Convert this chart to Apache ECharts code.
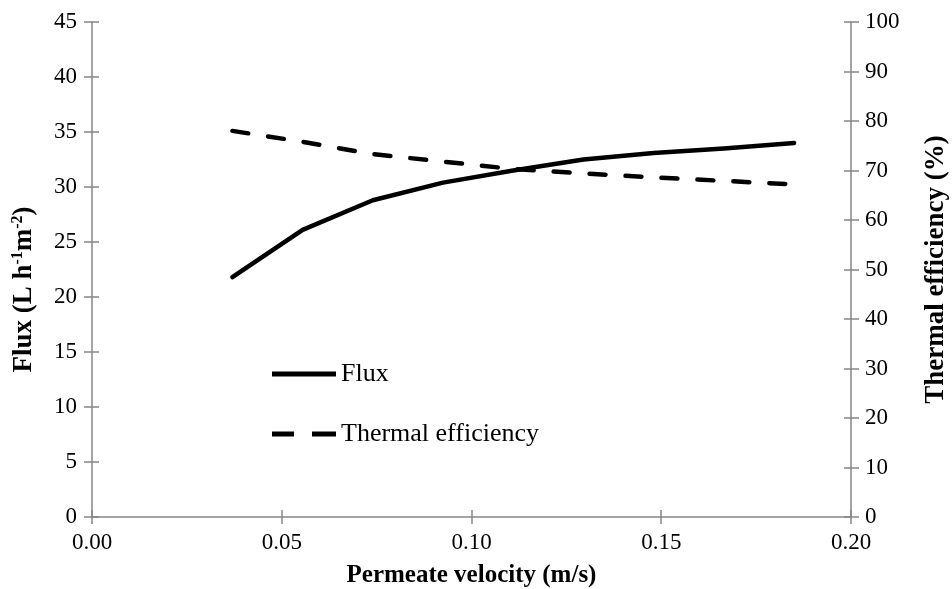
<!DOCTYPE html>
<html>
<head>
<meta charset="utf-8">
<script src="https://cdn.jsdelivr.net/npm/echarts@6/dist/echarts.min.js"></script>
<style>
  html, body { margin: 0; padding: 0; background: #fff; }
  #main { width: 952px; height: 589px; }
</style>
</head>
<body>
<div id="main"></div>
<script type="text/javascript">
// permeate velocity (m/s)
var velocity = [0.037, 0.0555, 0.074, 0.0925, 0.111, 0.1295, 0.148, 0.1665, 0.185];
// flux (L h-1 m-2)
var flux = [21.8, 26.1, 28.8, 30.4, 31.5, 32.5, 33.1, 33.5, 34.0];
// thermal efficiency (%)
var thermalEff = [78.0, 75.8, 73.3, 71.8, 70.3, 69.4, 68.6, 67.9, 67.2];

var fluxTicks = { min: 0, max: 45, interval: 5 };
var effTicks = { min: 0, max: 100, interval: 10 };
var velTicks = { min: 0, max: 0.2, interval: 0.05 };

var axisGrey = '#868686';
var serif = 'Liberation Serif';
var gridBox = { left: 92, right: 101, top: 22, bottom: 72, outerBoundsMode: 'none', containLabel: false };

function pairs(xs, ys) {
  var out = [];
  for (var i = 0; i < xs.length; i++) out.push([xs[i], ys[i]]);
  return out;
}

// axes of grid 1 only draw the inner half of the excel "cross" ticks
function innerTicks(pos, scale) {
  return {
    type: 'value', gridIndex: 1, position: pos,
    min: scale.min, max: scale.max, interval: scale.interval,
    axisLine: { show: false },
    axisTick: { show: true, inside: true, length: 7, lineStyle: { color: axisGrey, width: 1.5 } },
    axisLabel: { show: false },
    splitLine: { show: false }
  };
}

var myChart = echarts.init(document.getElementById('main'));

var option = {
  animation: false,
  backgroundColor: '#fff',
  textStyle: { fontFamily: serif },
  grid: [gridBox, gridBox],
  legend: {
    orient: 'vertical',
    left: 267,
    top: 354,
    itemWidth: 64,
    itemHeight: 5,
    itemGap: 30,
    textStyle: { fontFamily: serif, fontSize: 26, lineHeight: 30, color: '#000' },
    data: [
      { name: 'Flux', icon: 'path://M0,0h64v5h-64z' },
      { name: 'Thermal efficiency', icon: 'path://M0,0h22v5h-22z M40,0h24v5h-24z' }
    ]
  },
  xAxis: [{
    type: 'value', gridIndex: 0,
    min: velTicks.min, max: velTicks.max, interval: velTicks.interval,
    name: 'Permeate velocity (m/s)',
    nameLocation: 'middle',
    nameGap: 46,
    nameTextStyle: { fontFamily: serif, fontSize: 25, fontWeight: 'bold', color: '#000' },
    axisLine: { lineStyle: { color: axisGrey, width: 1.5 } },
    axisTick: { inside: false, length: 7, lineStyle: { color: axisGrey, width: 1.5 } },
    axisLabel: {
      margin: 14, fontFamily: serif, fontSize: 23, color: '#000',
      formatter: function (v) { return v.toFixed(2); }
    },
    splitLine: { show: false }
  }, innerTicks('bottom', velTicks)],
  yAxis: [{
    type: 'value', gridIndex: 0, position: 'left',
    min: fluxTicks.min, max: fluxTicks.max, interval: fluxTicks.interval,
    name: 'Flux (L h{sup|-1}m{sup|-2})',
    nameLocation: 'middle',
    nameGap: 54,
    nameTextStyle: {
      fontFamily: serif, fontSize: 27, fontWeight: 'bold', color: '#000',
      padding: [0, 40, 0, 0],
      rich: { sup: { fontFamily: serif, fontSize: 16, fontWeight: 'bold', color: '#000', verticalAlign: 'top', padding: [0, 0, 12, 0] } }
    },
    axisLine: { show: true, lineStyle: { color: axisGrey, width: 1.5 } },
    axisTick: { show: true, inside: false, length: 8, lineStyle: { color: axisGrey, width: 1.5 } },
    axisLabel: { margin: 15, fontFamily: serif, fontSize: 23, color: '#000' },
    splitLine: { show: false }
  }, {
    type: 'value', gridIndex: 0, position: 'right',
    min: effTicks.min, max: effTicks.max, interval: effTicks.interval,
    name: 'Thermal efficiency (%)',
    nameLocation: 'middle',
    nameGap: 72,
    nameRotate: 90,
    nameTextStyle: { fontFamily: serif, fontSize: 27, fontWeight: 'bold', color: '#000' },
    axisLine: { show: true, lineStyle: { color: axisGrey, width: 1.5 } },
    axisTick: { show: true, inside: false, length: 8, lineStyle: { color: axisGrey, width: 1.5 } },
    axisLabel: { margin: 14, fontFamily: serif, fontSize: 23, color: '#000' },
    splitLine: { show: false }
  }, innerTicks('left', fluxTicks), innerTicks('right', effTicks)],
  series: [{
    name: 'Flux',
    type: 'line',
    xAxisIndex: 0,
    yAxisIndex: 0,
    data: pairs(velocity, flux),
    symbol: 'none',
    color: '#000',
    lineStyle: { color: '#000', width: 4.5, cap: 'round', join: 'round' }
  }, {
    name: 'Thermal efficiency',
    type: 'line',
    xAxisIndex: 0,
    yAxisIndex: 1,
    data: pairs(velocity, thermalEff),
    symbol: 'none',
    color: '#000',
    lineStyle: { color: '#000', width: 4.5, type: [16, 20], cap: 'round', join: 'round' }
  }]
};

myChart.setOption(option);
</script>
</body>
</html>
